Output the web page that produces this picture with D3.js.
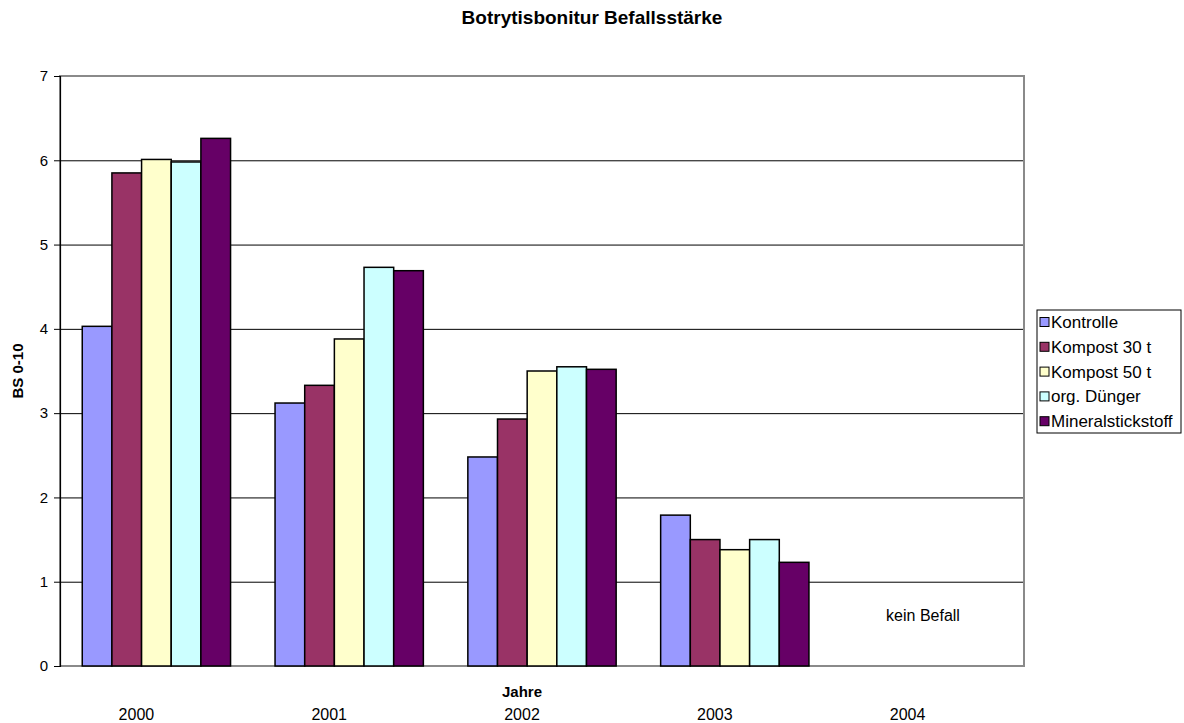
<!DOCTYPE html>
<html>
<head>
<meta charset="utf-8">
<script src="https://cdn.jsdelivr.net/npm/d3@7"></script>
<style>
  html, body { margin: 0; padding: 0; background: #fff; }
  svg { display: block; font-family: Arial, "Liberation Sans", sans-serif; }
</style>
</head>
<body>
<svg id="chart" width="1184" height="723"></svg>
<script>
// Botrytis infestation severity by year and fertilisation variant
const years = ["2000", "2001", "2002", "2003", "2004"];
const series = ["Kontrolle", "Kompost 30 t", "Kompost 50 t", "org. Dünger", "Mineralstickstoff"];
const kontrolle        = [4.03, 3.12, 2.48, 1.79, null];
const kompost30        = [5.85, 3.33, 2.93, 1.50, null];
const kompost50        = [6.01, 3.88, 3.50, 1.38, null];
const orgDuenger       = [5.98, 4.73, 3.55, 1.50, null];
const mineralstickstoff = [6.26, 4.69, 3.52, 1.23, null];
const yTicks = [0, 1, 2, 3, 4, 5, 6, 7];
const colors = ["#9999FF", "#993366", "#FFFFCC", "#CCFFFF", "#660066"];

const values = [kontrolle, kompost30, kompost50, orgDuenger, mineralstickstoff];
const rows = [];
years.forEach((yr, i) => {
  series.forEach((s, j) => {
    if (values[j][i] !== null) rows.push({ year: yr, series: s, value: values[j][i], idx: j });
  });
});

const svg = d3.select("#chart");
const plot = { left: 60, right: 1024, top: 76, bottom: 666 };

const x = d3.scaleBand().domain(years).range([plot.left, plot.right])
  .paddingInner(1.5 / 6.5).paddingOuter(0.75 / 6.5);
const xs = d3.scaleBand().domain(series).range([0, x.bandwidth()]);
const y = d3.scaleLinear().domain([0, 7]).range([plot.bottom, plot.top]);

// Gridlines
svg.append("g").selectAll("line").data(yTicks.filter(t => t > 0 && t < 7)).join("line")
  .attr("x1", plot.left).attr("x2", plot.right)
  .attr("y1", d => y(d) + 0.5).attr("y2", d => y(d) + 0.5)
  .attr("stroke", "#000").attr("stroke-width", 1);

// Plot area frame
svg.append("rect")
  .attr("x", plot.left).attr("y", y(7))
  .attr("width", plot.right - plot.left).attr("height", y(0) - y(7))
  .attr("fill", "none").attr("stroke", "#8a8a8a").attr("stroke-width", 2);

// Bars
svg.append("g").selectAll("rect").data(rows).join("rect")
  .attr("x", d => x(d.year) + xs(d.series))
  .attr("y", d => y(d.value))
  .attr("width", xs.bandwidth())
  .attr("height", d => y(0) - y(d.value))
  .attr("fill", d => colors[d.idx])
  .attr("stroke", "#000").attr("stroke-width", 1.5);

// Y axis
const yAxis = svg.append("g").attr("transform", `translate(${plot.left},0)`)
  .call(d3.axisLeft(y).tickValues(yTicks).tickFormat(d3.format("d")).tickSize(6).tickPadding(6));
yAxis.select(".domain").attr("stroke", "#000").attr("stroke-width", 1.2);
yAxis.selectAll(".tick line").attr("stroke", "#000");
yAxis.selectAll("text").attr("font-size", 15).attr("fill", "#000")
  .attr("font-family", "Arial, 'Liberation Sans', sans-serif");

// X axis labels
svg.append("g").selectAll("text").data(years).join("text")
  .attr("x", d => x(d) + x.bandwidth() / 2 - 20)
  .attr("y", 720)
  .attr("text-anchor", "middle")
  .attr("font-size", 16)
  .text(d => d);

// Titles
svg.append("text").attr("x", 592).attr("y", 24).attr("text-anchor", "middle")
  .attr("font-size", 19).attr("font-weight", "bold").text("Botrytisbonitur Befallsstärke");
svg.append("text").attr("x", 522).attr("y", 697).attr("text-anchor", "middle")
  .attr("font-size", 15).attr("font-weight", "bold").text("Jahre");
svg.append("text").attr("transform", `translate(23,${(plot.top + plot.bottom) / 2}) rotate(-90)`)
  .attr("text-anchor", "middle").attr("font-size", 15).attr("font-weight", "bold").text("BS 0-10");

// Note for the year without infestation
svg.append("text").attr("x", 923).attr("y", 621)
  .attr("text-anchor", "middle").attr("font-size", 16).text("kein Befall");

// Legend
const legend = svg.append("g");
legend.append("rect").attr("x", 1037).attr("y", 310).attr("width", 144).attr("height", 123)
  .attr("fill", "#fff").attr("stroke", "#000").attr("stroke-width", 1);
const items = legend.selectAll("g.item").data(series).join("g").attr("class", "item")
  .attr("transform", (d, i) => `translate(1040,${322 + i * 24.8})`);
items.append("rect").attr("x", 0).attr("y", -4.5).attr("width", 9).attr("height", 9)
  .attr("fill", (d, i) => colors[i]).attr("stroke", "#000").attr("stroke-width", 1);
items.append("text").attr("x", 11).attr("y", 6).attr("font-size", 17).text(d => d);
</script>
</body>
</html>
